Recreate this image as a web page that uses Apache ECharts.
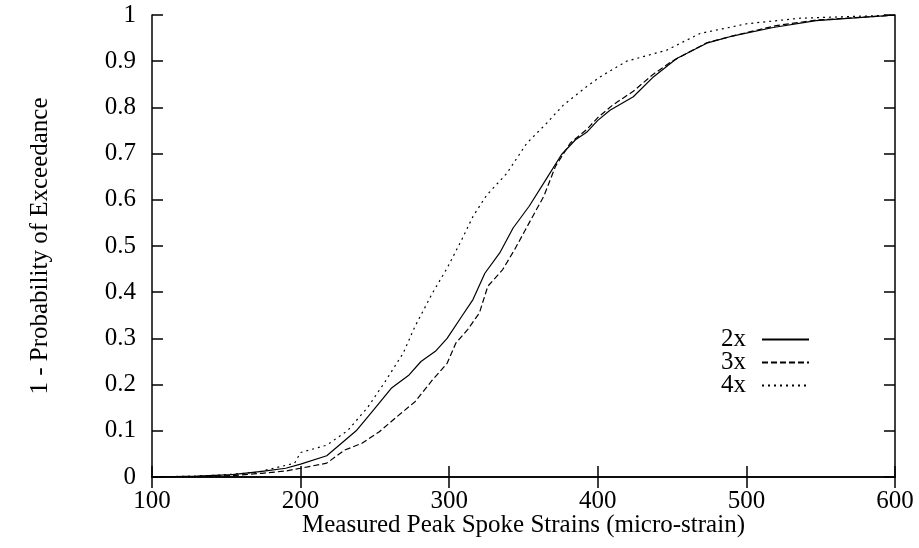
<!DOCTYPE html>
<html>
<head>
<meta charset="utf-8">
<script src="https://cdn.jsdelivr.net/npm/echarts@6/dist/echarts.min.js"></script>
<style>
html, body { margin: 0; padding: 0; background: #fff; }
#chart { width: 919px; height: 548px; }
</style>
</head>
<body>
<div id="chart"></div>
<script>
// x ticks / y ticks
var xTicks = [100, 200, 300, 400, 500, 600];
var yTicks = [0, 0.1, 0.2, 0.3, 0.4, 0.5, 0.6, 0.7, 0.8, 0.9, 1];

// 2x curve (solid)
var x2 = [100, 130, 154, 174, 190, 200, 217.6, 227.5, 237.4, 249, 261, 273, 281, 290.7, 298.6, 308.5, 316, 324, 334, 343, 353.8, 365.7, 375.6, 385, 392.5, 400, 408.2, 423.9, 437.4, 453.1, 473.3, 491.2, 518, 547, 592, 600];
var y2 = [0, 0.002, 0.005, 0.012, 0.019, 0.028, 0.046, 0.073, 0.10, 0.145, 0.192, 0.221, 0.25, 0.272, 0.30, 0.348, 0.384, 0.441, 0.485, 0.539, 0.586, 0.647, 0.698, 0.73, 0.746, 0.772, 0.794, 0.823, 0.866, 0.906, 0.939, 0.955, 0.973, 0.988, 0.998, 1];

// 3x curve (dashed)
var x3 = [100, 130, 154, 174, 190, 200, 217.6, 229.5, 241.3, 253, 265, 277, 288.7, 298.6, 304.5, 312.4, 320.3, 326, 336, 344, 353.8, 363.7, 371.6, 381.5, 392.5, 400, 410, 423.9, 437.4, 450, 473.3, 500, 520, 547, 592, 600];
var y3 = [0, 0.001, 0.003, 0.008, 0.013, 0.019, 0.030, 0.058, 0.073, 0.098, 0.131, 0.163, 0.21, 0.246, 0.29, 0.319, 0.355, 0.413, 0.449, 0.492, 0.55, 0.608, 0.673, 0.723, 0.752, 0.778, 0.805, 0.835, 0.872, 0.90, 0.94, 0.962, 0.977, 0.989, 0.998, 1];

// 4x curve (dotted)
var x4 = [100, 130, 150, 170, 182, 196, 200, 217.6, 231.5, 245, 257, 269, 277, 288.7, 298.6, 308.5, 316, 325.2, 338.7, 352.1, 365.6, 376.8, 392.5, 401.5, 419.4, 446.4, 468.8, 500.2, 536, 592, 600];
var y4 = [0, 0.002, 0.005, 0.01, 0.019, 0.03, 0.053, 0.069, 0.10, 0.15, 0.207, 0.268, 0.326, 0.398, 0.452, 0.514, 0.564, 0.61, 0.657, 0.722, 0.766, 0.805, 0.845, 0.866, 0.90, 0.924, 0.96, 0.981, 0.993, 0.999, 1];

function pairs(xs, ys) {
    var out = [];
    for (var i = 0; i < xs.length; i++) {
        out.push([xs[i], ys[i]]);
    }
    return out;
}

var font = 'Liberation Serif';
var fs = 25;
var chart = echarts.init(document.getElementById('chart'));

var axisLine = { show: true, lineStyle: { color: '#000', width: 1.5 } };
var axisTick = { show: true, inside: true, length: 11, lineStyle: { color: '#000', width: 1.5 } };

var option = {
    animation: false,
    backgroundColor: '#fff',
    grid: { left: 152, right: 24, top: 15, bottom: 71, containLabel: false, outerBoundsMode: 'none' },
    legend: {
        orient: 'vertical',
        align: 'right',
        right: 104,
        top: 322,
        itemWidth: 47,
        itemHeight: 14,
        itemGap: -2,
        itemStyle: { opacity: 0 },
        textStyle: { fontFamily: font, fontSize: fs, color: '#000', padding: [0, 11, 0, 0] },
        data: ['2x', '3x', '4x']
    },
    xAxis: [
        {
            type: 'value', min: 100, max: 600, interval: 100,
            axisLine: axisLine, axisTick: axisTick, splitLine: { show: false },
            axisLabel: { color: '#000', fontFamily: font, fontSize: fs, margin: 12 },
            name: 'Measured Peak Spoke Strains (micro-strain)',
            nameLocation: 'middle', nameGap: 36, nameMoveOverlap: false,
            nameTextStyle: { color: '#000', fontFamily: font, fontSize: fs }
        },
        {
            type: 'value', position: 'top', min: 100, max: 600, interval: 100,
            axisLine: axisLine, axisTick: axisTick, splitLine: { show: false },
            axisLabel: { show: false }
        }
    ],
    yAxis: [
        {
            type: 'value', min: 0, max: 1, interval: 0.1,
            axisLine: axisLine, axisTick: axisTick, splitLine: { show: false },
            axisLabel: { color: '#000', fontFamily: font, fontSize: fs, margin: 16 },
            name: '1 - Probability of Exceedance',
            nameLocation: 'middle', nameGap: 99, nameMoveOverlap: false,
            nameTextStyle: { color: '#000', fontFamily: font, fontSize: fs }
        },
        {
            type: 'value', position: 'right', min: 0, max: 1, interval: 0.1,
            axisLine: axisLine, axisTick: axisTick, splitLine: { show: false },
            axisLabel: { show: false }
        }
    ],
    series: [
        {
            name: '2x', type: 'line', symbol: 'none', data: pairs(x2, y2),
            lineStyle: { color: '#000', width: 1.2, type: 'solid' },
            itemStyle: { color: '#000' }
        },
        {
            name: '3x', type: 'line', symbol: 'none', data: pairs(x3, y3),
            lineStyle: { color: '#000', width: 1.2, type: [6, 3] },
            itemStyle: { color: '#000' }
        },
        {
            name: '4x', type: 'line', symbol: 'none', data: pairs(x4, y4),
            lineStyle: { color: '#000', width: 1.2, type: [2, 4] },
            itemStyle: { color: '#000' }
        }
    ]
};
chart.setOption(option);
</script>
</body>
</html>
